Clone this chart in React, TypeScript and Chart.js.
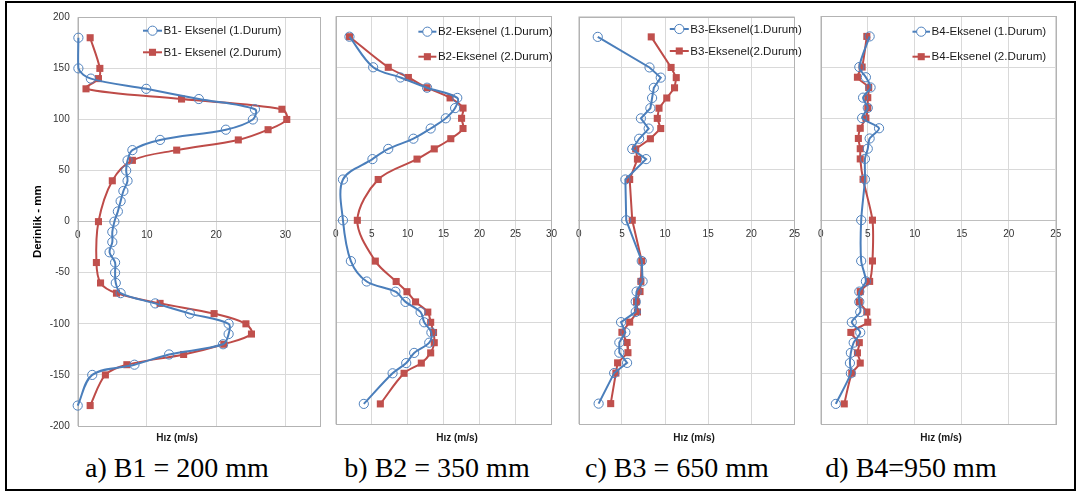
import React, { useEffect, useRef } from 'react';
import { Chart, registerables } from 'chart.js';

Chart.register(...registerables);

// ---------- data ----------
const depthLevels = [180, 150, 140, 130, 120, 110, 100, 90, 80, 70, 60, 40, 0, -40, -60, -70, -80, -90, -100, -110, -120, -130, -140, -150, -180];
const depthLevelsB1Case1 = [180, 150, 140, 130, 120, 110, 100, 90, 80, 70, 60, 50, 40, 30, 20, 10, 0, -10, -20, -30, -40, -50, -60, -70, -80, -90, -100, -110, -120, -130, -140, -150, -180];

const b1Case1 = [0.1, 0.1, 1.9, 9.9, 17.5, 25.6, 25.3, 21.4, 11.9, 7.9, 7.2, 7.0, 7.2, 6.6, 6.2, 5.8, 5.3, 5.0, 5.0, 4.6, 5.4, 5.4, 5.5, 6.2, 11.2, 16.2, 21.8, 21.8, 21.0, 13.2, 8.2, 2.1, 0.0];
const b1Case2 = [1.8, 3.2, 3.0, 1.2, 15.0, 29.5, 30.2, 27.5, 23.2, 14.3, 7.9, 5.0, 3.0, 2.7, 3.3, 5.6, 11.9, 19.7, 24.3, 25.1, 21.1, 15.3, 7.1, 4.0, 1.8];
const b2Case1 = [1.9, 5.2, 9.0, 12.7, 16.9, 16.6, 15.3, 13.2, 10.8, 7.3, 5.1, 1.0, 1.0, 2.1, 4.3, 8.3, 9.7, 11.8, 12.3, 13.3, 13.0, 10.9, 9.8, 7.9, 3.9];
const b2Case2 = [1.9, 7.3, 10.1, 12.7, 15.9, 17.7, 17.5, 17.7, 16.0, 13.7, 11.3, 5.9, 3.0, 5.5, 8.4, 9.9, 11.1, 12.8, 13.2, 13.6, 13.7, 13.2, 11.9, 9.5, 6.2];
const b3Case1 = [2.2, 8.2, 9.5, 8.7, 8.5, 8.3, 7.2, 8.1, 7.0, 6.2, 7.8, 5.4, 5.5, 7.3, 7.4, 6.7, 6.6, 6.6, 4.9, 5.4, 4.7, 4.7, 5.6, 4.1, 2.3];
const b3Case2 = [8.4, 10.7, 11.3, 11.1, 10.2, 9.3, 9.1, 9.5, 8.3, 6.6, 6.8, 5.9, 6.2, 7.3, 7.2, 7.1, 6.7, 6.8, 5.9, 5.0, 5.6, 5.7, 4.5, 4.3, 3.7];
const b4Case1 = [5.2, 4.1, 4.8, 5.3, 4.5, 5.0, 4.4, 6.2, 5.2, 5.0, 4.7, 4.7, 4.3, 4.3, 4.8, 4.1, 4.1, 4.2, 3.3, 4.2, 3.5, 3.2, 3.1, 3.2, 1.6];
const b4Case2 = [4.9, 4.4, 3.9, 5.1, 5.0, 5.0, 4.8, 4.2, 4.0, 4.2, 4.2, 4.5, 5.5, 5.5, 5.2, 4.2, 4.1, 4.9, 5.0, 3.2, 4.1, 3.9, 4.2, 3.3, 2.5];

const labelsB1 = ['B1- Eksenel (1.Durum)', 'B1- Eksenel (2.Durum)'];
const labelsB2 = ['B2-Eksenel (1.Durum)', 'B2-Eksenel (2.Durum)'];
const labelsB3 = ['B3-Eksenel(1.Durum)', 'B3-Eksenel(2.Durum)'];
const labelsB4 = ['B4-Eksenel (1.Durum)', 'B4-Eksenel (2.Durum)'];

const captions = ['a) B1 = 200 mm', 'b) B2 = 350 mm', 'c) B3 = 650 mm', 'd) B4=950 mm'];
const xAxisTitle = 'Hız (m/s)';
const yAxisTitle = 'Derinlik - mm';
const yMin = -200;
const yMax = 200;
const yStep = 50;

// ---------- styles ----------
const SANS = '"Liberation Sans", Arial, sans-serif';
const BLUE = '#4A7EBB';
const BLUE_MARK = '#4F81BD';
const RED = '#BE4B48';
const RED_MARK = '#C0504D';
const GRID = '#d9d9d9';

const toPoints = (xs: number[], ys: number[]) => xs.map((x, i) => ({ x, y: ys[i] }));

const framePlugin = {
  id: 'frame',
  beforeDatasetsDraw(chart: any) {
    const { ctx, chartArea } = chart;
    ctx.save();
    ctx.strokeStyle = '#b3b3b3';
    ctx.lineWidth = 1;
    ctx.strokeRect(Math.round(chartArea.left) + 0.5, Math.round(chartArea.top) + 0.5,
      Math.round(chartArea.right) - Math.round(chartArea.left),
      Math.round(chartArea.bottom) - Math.round(chartArea.top));
    ctx.restore();
  },
};

const legendPlugin = {
  id: 'manualLegend',
  afterDatasetsDraw(chart: any, _args: any, opts: any) {
    const { ctx, chartArea } = chart;
    const { dx, rows, lineLen } = opts;
    chart.data.datasets.forEach((ds: any, i: number) => {
      const y = chartArea.top + rows[i];
      const x0 = chartArea.left + dx;
      ctx.save();
      ctx.strokeStyle = ds.borderColor;
      ctx.lineWidth = ds.borderWidth;
      ctx.beginPath();
      ctx.moveTo(x0, y);
      ctx.lineTo(x0 + lineLen, y);
      ctx.stroke();
      const cx = x0 + lineLen / 2;
      if (ds.pointStyle === 'circle') {
        ctx.beginPath();
        ctx.arc(cx, y, ds.pointRadius, 0, Math.PI * 2);
        ctx.fillStyle = '#ffffff';
        ctx.fill();
        ctx.strokeStyle = ds.pointBorderColor;
        ctx.lineWidth = ds.pointBorderWidth;
        ctx.stroke();
      } else {
        const s = ds.pointRadius * Math.SQRT1_2;
        ctx.fillStyle = ds.pointBackgroundColor;
        ctx.fillRect(cx - s, y - s, 2 * s, 2 * s);
      }
      ctx.fillStyle = '#1a1a1a';
      ctx.font = `11.6px ${SANS}`;
      ctx.textAlign = 'left';
      ctx.textBaseline = 'middle';
      ctx.fillText(ds.label, x0 + lineLen + 1.5, y + 0.5);
      ctx.restore();
    });
  },
};

type PanelCfg = {
  left: number; top: number; w: number; h: number;
  pad: { left: number; right: number; top: number; bottom: number };
  yWidth: number; showY: boolean; xMax: number; xStep: number;
  tension: number;
  s1: { x: number[]; y: number[]; label: string };
  s2: { x: number[]; y: number[]; label: string };
  legend: { dx: number; rows: number[]; lineLen: number };
};

const panels: PanelCfg[] = [
  {
    left: 10, top: 0, w: 320, h: 445,
    pad: { left: 0, right: 10, top: 17.3, bottom: 19 },
    yWidth: 67.7, showY: true, xMax: 35, xStep: 10, tension: 0.33,
    s1: { x: b1Case1, y: depthLevelsB1Case1, label: labelsB1[0] },
    s2: { x: b1Case2, y: depthLevels, label: labelsB1[1] },
    legend: { dx: 65.3, rows: [13.4, 35], lineLen: 19 },
  },
  {
    left: 325, top: 0, w: 240, h: 445,
    pad: { left: 10.7, right: 7.3, top: 16.3, bottom: 20.7 },
    yWidth: 0, showY: false, xMax: 30, xStep: 5, tension: 0.33,
    s1: { x: b2Case1, y: depthLevels, label: labelsB2[0] },
    s2: { x: b2Case2, y: depthLevels, label: labelsB2[1] },
    legend: { dx: 82.6, rows: [15.4, 40.4], lineLen: 18 },
  },
  {
    left: 568, top: 0, w: 240, h: 445,
    pad: { left: 10.3, right: 9.3, top: 16.5, bottom: 21 },
    yWidth: 0, showY: false, xMax: 25, xStep: 5, tension: 0,
    s1: { x: b3Case1, y: depthLevels, label: labelsB3[0] },
    s2: { x: b3Case2, y: depthLevels, label: labelsB3[1] },
    legend: { dx: 91, rows: [12.5, 34.5], lineLen: 19 },
  },
  {
    left: 810, top: 0, w: 260, h: 445,
    pad: { left: 10, right: 14.3, top: 16, bottom: 20.7 },
    yWidth: 0, showY: false, xMax: 25, xStep: 5, tension: 0.25,
    s1: { x: b4Case1, y: depthLevels, label: labelsB4[0] },
    s2: { x: b4Case2, y: depthLevels, label: labelsB4[1] },
    legend: { dx: 91.7, rows: [15.7, 40.7], lineLen: 17.5 },
  },
];

function Panel({ cfg }: { cfg: PanelCfg }) {
  const ref = useRef<HTMLCanvasElement>(null);
  useEffect(() => {
    const chart = new Chart(ref.current as HTMLCanvasElement, {
      type: 'scatter',
      data: {
        datasets: [
          {
            label: cfg.s1.label,
            data: toPoints(cfg.s1.x, cfg.s1.y),
            showLine: true,
            borderColor: BLUE,
            borderWidth: 2,
            tension: cfg.tension,
            pointStyle: 'circle',
            pointRadius: 4.6,
            pointBorderColor: BLUE_MARK,
            pointBorderWidth: 1,
            pointBackgroundColor: 'rgba(255,255,255,0)',
            clip: false,
          } as any,
          {
            label: cfg.s2.label,
            data: toPoints(cfg.s2.x, cfg.s2.y),
            showLine: true,
            borderColor: RED,
            borderWidth: 2,
            tension: cfg.tension,
            pointStyle: 'rect',
            pointRadius: 5,
            pointBorderWidth: 0,
            pointBorderColor: RED_MARK,
            pointBackgroundColor: RED_MARK,
            clip: false,
          } as any,
        ],
      },
      options: {
        animation: false,
        responsive: false,
        maintainAspectRatio: false,
        events: [],
        layout: { padding: cfg.pad },
        plugins: {
          legend: { display: false },
          tooltip: { enabled: false },
          manualLegend: cfg.legend,
        } as any,
        scales: {
          x: {
            type: 'linear',
            position: { y: 0 } as any,
            min: 0,
            max: cfg.xMax,
            ticks: {
              stepSize: cfg.xStep,
              autoSkip: false,
              maxRotation: 0,
              padding: 8,
              color: '#333333',
              font: { family: SANS, size: 10 },
              callback: (v: any) => (Number(v) % cfg.xStep === 0 ? String(v) : ''),
            },
            grid: { color: GRID, drawTicks: false, lineWidth: 1 },
            border: { display: true, color: '#bfbfbf' },
          },
          y: {
            type: 'linear',
            position: 'left',
            min: yMin,
            max: yMax,
            ticks: {
              display: cfg.showY,
              stepSize: yStep,
              padding: 8,
              color: '#333333',
              font: { family: SANS, size: 10 },
            },
            grid: { color: GRID, drawTicks: false, lineWidth: 1 },
            border: { display: false },
            title: {
              display: cfg.showY,
              text: yAxisTitle,
              color: '#000',
              font: { family: SANS, size: 11.5, weight: 'bold' },
              padding: { top: 21, bottom: 0 },
            },
            afterFit: (s: any) => { s.width = cfg.yWidth; },
          } as any,
        },
      },
      plugins: [framePlugin, legendPlugin],
    });
    return () => chart.destroy();
  }, []);
  return (
    <canvas
      ref={ref}
      width={cfg.w}
      height={cfg.h}
      style={{ position: 'absolute', left: cfg.left, top: cfg.top, width: cfg.w, height: cfg.h }}
    />
  );
}

const xTitleCenters = [177, 457, 694, 941];
const captionCenters = [177, 437, 677, 911];

export default function App() {
  return (
    <div style={{ position: 'fixed', left: 0, top: 0, width: 1081, height: 495, background: '#fff', overflow: 'hidden' }}>
      {panels.map((p, i) => (
        <Panel key={i} cfg={p} />
      ))}
      {xTitleCenters.map((cx, i) => (
        <div key={'xt' + i} style={{
          position: 'absolute', left: cx, top: 437, transform: 'translate(-50%, -50%)',
          fontFamily: SANS, fontWeight: 'bold', fontSize: 10, color: '#1a1a1a', whiteSpace: 'nowrap',
        }}>{xAxisTitle}</div>
      ))}
      {captions.map((c, i) => (
        <div key={'cap' + i} style={{
          position: 'absolute', left: captionCenters[i], top: 468, transform: 'translate(-50%, -50%)',
          fontFamily: '"Liberation Serif", "Times New Roman", serif', fontSize: 28, color: '#000',
          whiteSpace: 'nowrap', lineHeight: 1,
        }}>{c}</div>
      ))}
      <div style={{
        position: 'absolute', left: 5, top: 1, width: 1071, height: 490,
        border: '2px solid #000', boxSizing: 'border-box', pointerEvents: 'none',
      }} />
    </div>
  );
}
